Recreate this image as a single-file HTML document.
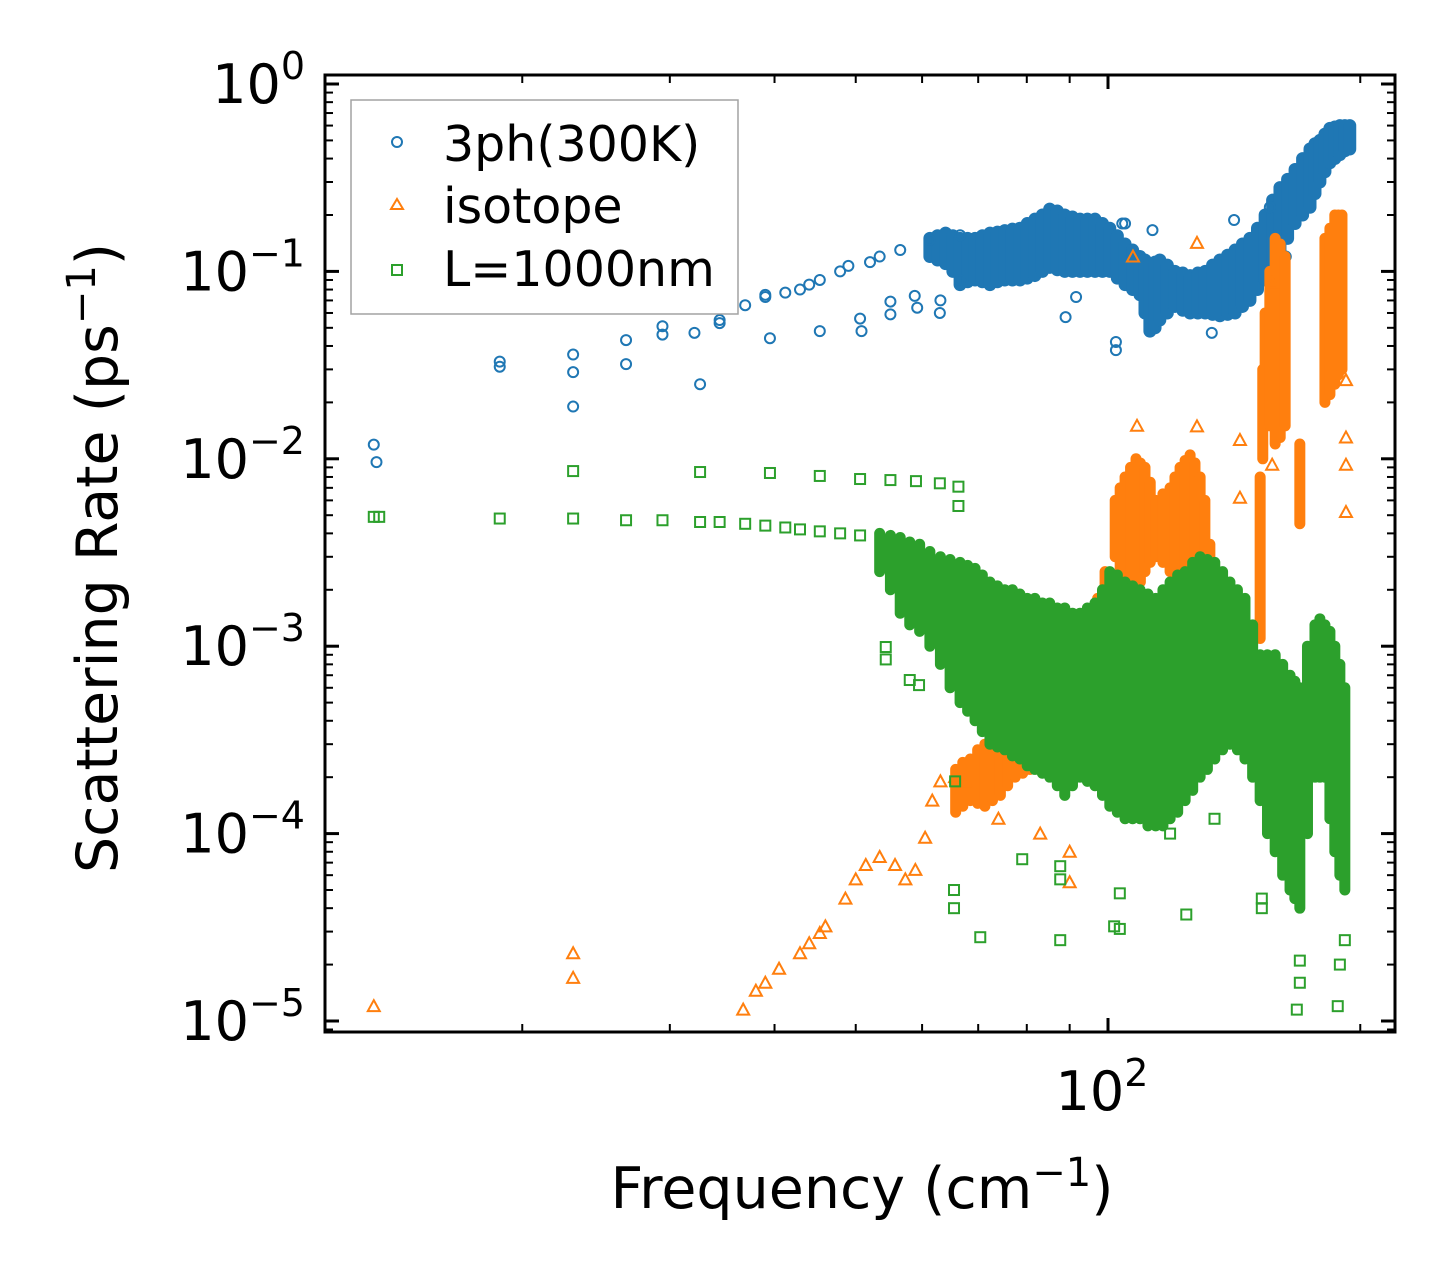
<!DOCTYPE html>
<html><head><meta charset="utf-8"><style>
body{margin:0;background:#fff;}
svg text{font-family:"DejaVu Sans","Liberation Sans",sans-serif;fill:#000;}
</style></head><body>
<svg id="chart" width="1455" height="1282" viewBox="0 0 1455 1282" xmlns="http://www.w3.org/2000/svg">
<rect width="1455" height="1282" fill="#fff"/>
<g id="marks"></g>
<g id="axes"></g>
<text x="862" y="1208" font-size="57" text-anchor="middle">Frequency (cm<tspan dy="-22" font-size="40">−1</tspan><tspan dy="22">)</tspan></text>
<text transform="translate(117,558) rotate(-90)" font-size="57" text-anchor="middle">Scattering Rate (ps<tspan dy="-22" font-size="40">−1</tspan><tspan dy="22">)</tspan></text>
<g>
<rect x="351" y="100" width="387" height="214" fill="#fff" stroke="#999" stroke-width="1.5" opacity="0.9"/>
<circle cx="397" cy="142" r="5" fill="none" stroke="#1f77b4" stroke-width="2"/>
<text x="443" y="161" font-size="49">3ph(300K)</text>
<path d="M397,199 L403,209 L391,209 Z" fill="none" stroke="#ff7f0e" stroke-width="2"/>
<text x="443" y="223" font-size="49">isotope</text>
<rect x="392" y="265" width="10" height="10" fill="none" stroke="#2ca02c" stroke-width="2"/>
<text x="443" y="286" font-size="49">L=1000nm</text>
</g>
</svg>
<script>
// ---- data ----
const blueFreq=[13.3,13.4,18.8,18.8,23,23,23,26.6,26.6,29.4,29.4,32.1,32.6,34.4,34.4,36.9,39,39,39.5,41.2,42.9,44,45.3,45.3,47.9,49,50.6,50.8,52,53.4,55,55,56.5,58.8,59.2,61.3,63,63.1,66.6,66.6,89,91.6,102.2,102.2,104,104.8,113,133,141.4,156,163];
const blueRate=[0.0119,0.0096,0.033,0.031,0.036,0.029,0.019,0.043,0.032,0.051,0.046,0.047,0.025,0.055,0.053,0.066,0.073,0.075,0.044,0.077,0.08,0.085,0.09,0.048,0.1,0.107,0.056,0.048,0.112,0.12,0.069,0.059,0.13,0.074,0.064,0.147,0.06,0.07,0.156,0.09,0.057,0.073,0.038,0.042,0.18,0.18,0.166,0.047,0.188,0.22,0.12];
const blueBandFreq=[61.3,62.6,64,65.3,66.6,68,69.4,70.8,72.3,73.8,75.3,76.9,78.5,80.1,81.8,83.5,85.2,87,88.8,90.7,92.6,94.5,96.5,98.5,100.5,102.6,104.8,107,109.2,110.7,112.2,113.8,115.3,117.7,120.2,122.8,125.3,128,130.6,133.3,136,138.9,141.8,144.7,147.7,150.8,154,157.2,160.4,163.8,167.2,170.7,174.2,176.6,179,181.5,184,186.5,189.1,191.7,194.3];
const blueBandLo=[0.12,0.115,0.11,0.1,0.085,0.088,0.09,0.088,0.085,0.088,0.09,0.09,0.09,0.092,0.095,0.1,0.105,0.102,0.1,0.1,0.1,0.1,0.1,0.1,0.1,0.092,0.085,0.08,0.075,0.06,0.048,0.05,0.055,0.06,0.065,0.062,0.06,0.06,0.06,0.059,0.058,0.059,0.06,0.065,0.07,0.08,0.09,0.1,0.12,0.15,0.18,0.2,0.22,0.26,0.3,0.34,0.38,0.4,0.42,0.44,0.45];
const blueBandHi=[0.15,0.155,0.16,0.155,0.15,0.15,0.15,0.155,0.16,0.162,0.165,0.168,0.17,0.18,0.19,0.2,0.215,0.21,0.2,0.195,0.19,0.19,0.19,0.18,0.17,0.155,0.14,0.13,0.12,0.115,0.11,0.112,0.115,0.108,0.1,0.098,0.095,0.098,0.1,0.108,0.115,0.122,0.13,0.14,0.15,0.17,0.2,0.24,0.28,0.31,0.35,0.4,0.45,0.48,0.5,0.54,0.58,0.59,0.6,0.6,0.6];

const orangeFreq=[13.3,23,23,36.7,38,39,40.5,42.9,44,45.3,46,48.6,50,51.4,53.4,55.7,57.3,58.9,60.5,61.7,63.1,65.7,67.5,107.1,127.7,108.3,127.7,143.7,143.7,157,192.3,192.3,192.3,192.3,157,90,90,74,83];
const orangeRate=[1.2e-5,2.3e-5,1.7e-5,1.15e-5,1.45e-5,1.6e-5,1.9e-5,2.3e-5,2.6e-5,2.95e-5,3.2e-5,4.5e-5,5.7e-5,6.8e-5,7.5e-5,6.8e-5,5.7e-5,6.4e-5,9.5e-5,1.5e-4,1.9e-4,2e-4,1.9e-4,0.12,0.142,0.015,0.0149,0.0126,0.0062,0.0093,0.013,0.0093,0.0052,0.0263,0.087,8e-5,5.5e-5,1.2e-4,1.0e-4];
const orangeBandFreq=[65.8,67.1,68.5,69.9,71.3,72.8,74.4,75.9,77.5,79.1,80.7,82.4,84.1,85.9,87.7,89.5,91.4,93.3,95.2,97.2,99.2,102,103.4,104.8,106.4,108,109.3,110.7,112.3,114,116.3,118.6,120.2,121.9,123.6,125.3,127,128.8,130.5,132.3,151.9,153,154,156,158.3,160.5,162.7,169.4,181.5,184,186.5,188.3,190.2];
const orangeBandLo=[1.3e-4,1.4e-4,1.5e-4,1.45e-4,1.4e-4,1.5e-4,1.6e-4,1.8e-4,2e-4,2.1e-4,2.2e-4,2.3e-4,2.5e-4,2.7e-4,3e-4,3.2e-4,3.5e-4,3.2e-4,3e-4,3.5e-4,4e-4,0.003,0.0026,0.0022,0.0021,0.002,0.0022,0.0025,0.0028,0.003,0.0028,0.0025,0.0023,0.0022,0.0022,0.0023,0.0026,0.003,0.003,0.003,0.0011,0.01,0.02,0.015,0.012,0.013,0.015,0.0045,0.02,0.022,0.025,0.028,0.03];
const orangeBandHi=[2.2e-4,2.4e-4,2.5e-4,2.8e-4,3e-4,3.5e-4,4e-4,4.5e-4,5e-4,5.5e-4,6e-4,6.5e-4,7e-4,7.5e-4,8e-4,8.5e-4,9e-4,1.1e-3,1.3e-3,1.8e-3,2.5e-3,0.006,0.007,0.008,0.009,0.01,0.0095,0.009,0.0075,0.006,0.0065,0.007,0.008,0.009,0.0098,0.0105,0.0095,0.008,0.006,0.0035,0.008,0.03,0.06,0.1,0.15,0.14,0.12,0.012,0.15,0.17,0.2,0.2,0.2];

const greenFreq=[13.3,13.5,18.8,23,23,26.6,29.4,32.6,32.6,34.4,36.9,39,39.5,41.2,42.9,45.3,45.3,47.9,50.6,50.6,55,59,63,66.3,66.3,54.3,54.3,58,59.5,65.7,65.5,65.5,70.4,87.7,87.7,79,87.7,101.7,103.3,103.3,124,152.6,152.6,169.4,169.4,168,189.1,191.7,188,134,118.6];
const greenRate=[0.0049,0.0049,0.0048,0.0086,0.0048,0.0047,0.0047,0.0085,0.0046,0.0046,0.0045,0.0044,0.0084,0.0043,0.0042,0.0081,0.0041,0.004,0.0078,0.0039,0.0077,0.0076,0.0074,0.0071,0.0056,8.5e-4,9.9e-4,6.6e-4,6.2e-4,1.9e-4,5e-5,4e-5,2.8e-5,6.7e-5,5.7e-5,7.3e-5,2.7e-5,3.2e-5,3.1e-5,4.8e-5,3.7e-5,4.5e-5,4e-5,2.1e-5,1.6e-5,1.15e-5,2.0e-5,2.7e-5,1.2e-5,1.2e-4,1e-4];
const greenBandFreq=[53.4,55,56.5,58,59.6,61.3,63.1,64.8,66.6,68,69.4,70.8,72.3,73.8,75.3,76.9,78.5,80.1,81.8,83.5,85.2,87,88.8,90.7,92.6,94.5,96.5,98.5,100.5,102.6,104.8,107,109.2,111.6,114,116.3,118.6,121.1,123.6,126.2,128.8,131.4,134.1,137,139.8,142.7,145.7,148.8,151.9,155,158.3,161.6,164.9,167.1,169.4,173,176.6,179,181.5,184,186.5,189.1,191.7];
const greenBandLo=[0.0025,0.002,0.0015,0.0013,0.0012,0.001,0.0008,0.0006,0.0005,0.00045,0.0004,0.00035,0.0003,0.00029,0.00028,0.00026,0.00025,0.00023,0.00022,0.00021,0.0002,0.00018,0.00016,0.00018,0.0002,0.00019,0.00018,0.00016,0.00014,0.00013,0.00012,0.00012,0.00012,0.00011,0.00011,0.00011,0.00012,0.00013,0.00015,0.00017,0.0002,0.00022,0.00025,0.00028,0.0003,0.00028,0.00025,0.0002,0.00015,0.0001,0.00008,0.00006,0.00005,0.000045,0.00004,0.0001,0.0002,0.0002,0.0002,0.00012,0.00008,0.00006,0.00005];
const greenBandHi=[0.004,0.0039,0.0038,0.0036,0.0035,0.0032,0.003,0.0029,0.0028,0.0027,0.0026,0.0024,0.0022,0.0021,0.002,0.002,0.0019,0.0018,0.0018,0.0017,0.0017,0.0016,0.0016,0.0015,0.0015,0.0016,0.0017,0.002,0.0025,0.0024,0.0022,0.0021,0.002,0.0019,0.0018,0.002,0.0022,0.0024,0.0025,0.0028,0.003,0.0029,0.0028,0.0025,0.0022,0.002,0.0018,0.0013,0.0009,0.0009,0.0009,0.0008,0.0007,0.00065,0.0006,0.001,0.0013,0.0014,0.0013,0.0012,0.001,0.0008,0.0006];

const yTickExp=[0,-1,-2,-3,-4,-5];
const xTickLabels=["10","2"];

// ---- axes functions ----
const L=325,R=1395,T=75,B=1032;
function X(f){return 1108+838*Math.log10(f/100);}
function Y(r){return 84-187.4*Math.log10(r);}
const NS="http://www.w3.org/2000/svg";
const marks=document.getElementById('marks');
const axes=document.getElementById('axes');
function mk(tag,attrs,parent){const e=document.createElementNS(NS,tag);for(const k in attrs)e.setAttribute(k,attrs[k]);parent.appendChild(e);return e;}

function band(fr,lo,hi,color,name,w){
  for(let i=0;i<fr.length;i++){
    const e=mk('line',{x1:X(fr[i]),x2:X(fr[i]),y1:Y(lo[i]),y2:Y(hi[i]),stroke:color,'stroke-width':w,'stroke-linecap':'round'},marks);
    
    
  }
}
function circles(fr,rt){
  for(let i=0;i<fr.length;i++){
    const e=mk('circle',{cx:X(fr[i]),cy:Y(rt[i]),r:5,fill:'none',stroke:'#1f77b4','stroke-width':2},marks);
    
    
  }
}
function tris(fr,rt){
  for(let i=0;i<fr.length;i++){
    const x=X(fr[i]),y=Y(rt[i]);
    const e=mk('path',{d:`M${x},${y-6} L${x+6},${y+5} L${x-6},${y+5} Z`,fill:'none',stroke:'#ff7f0e','stroke-width':2},marks);
    
    
  }
}
function squares(fr,rt){
  for(let i=0;i<fr.length;i++){
    const e=mk('rect',{x:X(fr[i])-5,y:Y(rt[i])-5,width:10,height:10,fill:'none',stroke:'#2ca02c','stroke-width':2},marks);
    
    
  }
}
band(blueBandFreq,blueBandLo,blueBandHi,'#1f77b4','3ph-dense-band',13);
circles(blueFreq,blueRate);
band(orangeBandFreq,orangeBandLo,orangeBandHi,'#ff7f0e','isotope-dense-band',11);
tris(orangeFreq,orangeRate);
band(greenBandFreq,greenBandLo,greenBandHi,'#2ca02c','boundary-dense-band',11);
squares(greenFreq,greenRate);

// frame
const fr=mk('rect',{x:L,y:T,width:R-L,height:B-T,fill:'none',stroke:'#000','stroke-width':3},axes);


// y ticks
yTickExp.forEach(ex=>{
  const y=Y(Math.pow(10,ex));
  mk('line',{x1:L,x2:L+14,y1:y,y2:y,stroke:'#000','stroke-width':3},axes);
  mk('line',{x1:R,x2:R-14,y1:y,y2:y,stroke:'#000','stroke-width':3},axes);
  const t=mk('text',{x:305,y:y+19,'font-size':54,'text-anchor':'end'},axes);
  
  
  t.innerHTML='10<tspan dy="-24" font-size="38">'+(ex<0?'−'+(-ex):ex)+'</tspan>';
  for(let m=2;m<=9;m++){
    const ym=Y(Math.pow(10,ex-1)*m);
    if(ym>B||ym<T)continue;
    mk('line',{x1:L,x2:L+8,y1:ym,y2:ym,stroke:'#000','stroke-width':2},axes);
    mk('line',{x1:R,x2:R-8,y1:ym,y2:ym,stroke:'#000','stroke-width':2},axes);
  }
});
for(let m=2;m<=9;m++){const ym=Y(m*1e-6);if(ym<=B){mk('line',{x1:L,x2:L+8,y1:ym,y2:ym,stroke:'#000','stroke-width':2},axes);mk('line',{x1:R,x2:R-8,y1:ym,y2:ym,stroke:'#000','stroke-width':2},axes);}}
// x ticks
const xm=X(100);
mk('line',{x1:xm,x2:xm,y1:B,y2:B-14,stroke:'#000','stroke-width':3},axes);
mk('line',{x1:xm,x2:xm,y1:T,y2:T+14,stroke:'#000','stroke-width':3},axes);
[20,30,40,50,60,70,80,90,200].forEach(f=>{
  const x=X(f);
  mk('line',{x1:x,x2:x,y1:B,y2:B-8,stroke:'#000','stroke-width':2},axes);
  mk('line',{x1:x,x2:x,y1:T,y2:T+8,stroke:'#000','stroke-width':2},axes);
});
const xl=mk('text',{x:xm-6,y:1110,'font-size':54,'text-anchor':'middle'},axes);


xl.innerHTML=xTickLabels[0]+'<tspan dy="-24" font-size="38">'+xTickLabels[1]+'</tspan>';
</script>
</body></html>
